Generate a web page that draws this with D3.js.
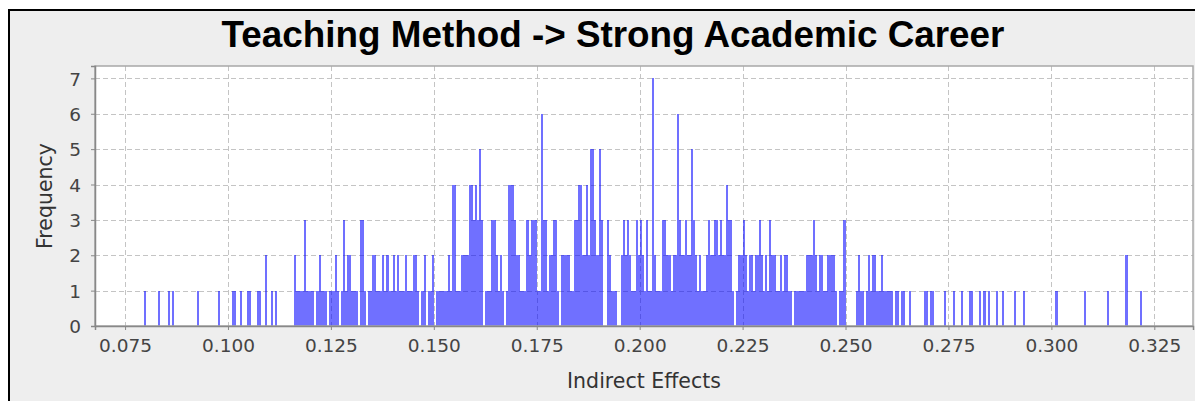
<!DOCTYPE html>
<html><head><meta charset="utf-8">
<script src="https://cdn.jsdelivr.net/npm/d3@7"></script>
<style>html,body{margin:0;padding:0;background:#fff;} svg{display:block;}</style>
</head><body><svg id="c" width="1195" height="401"></svg>
<script>
const chartTitle = "Teaching Method -> Strong Academic Career";
const xAxisLabel = "Indirect Effects";
const yAxisLabel = "Frequency";
const xTickValues = [0.075, 0.100, 0.125, 0.150, 0.175, 0.200, 0.225, 0.250, 0.275, 0.300, 0.325];
const yTickValues = [0, 1, 2, 3, 4, 5, 6, 7];
const xDomain = [0.0677, 0.3344];
const yDomain = [0, 7.35];
const binStart = 0.079;
const binWidth = 0.0005;
const frequency = [
  0,1,0,0,0,0,0,0,1,0, 0,0,0,1,0,1,0,0,0,0,
  0,0,0,0,0,0,0,1,0,0, 0,0,0,0,0,0,0,1,0,0,
  0,0,0,0,1,1,0,0,1,0, 0,1,1,0,0,0,1,1,0,0,
  2,0,0,1,0,1,0,0,0,0, 0,0,0,0,2,1,1,1,1,3,
  1,1,1,1,0,1,2,1,1,1, 0,1,1,1,2,1,0,1,3,1,
  2,2,1,1,1,0,3,3,1,0, 1,1,2,2,1,1,1,2,1,2,
  1,1,2,1,2,1,1,1,2,1, 1,1,2,2,1,0,1,2,0,1,
  1,2,0,1,1,1,1,1,1,2, 1,4,4,1,1,2,2,2,2,4,
  4,3,4,3,5,3,0,1,1,1, 3,3,2,1,2,1,0,1,4,4,
  4,3,2,2,1,1,1,3,2,3, 3,3,1,1,6,3,3,1,2,2,
  3,3,1,0,2,2,2,2,1,1, 3,3,4,4,2,2,4,2,5,5,
  3,2,5,3,0,0,3,2,1,1, 1,0,0,2,3,2,3,2,1,1,
  3,2,3,2,1,3,1,1,7,2, 1,1,1,3,3,2,2,1,2,2,
  6,3,2,2,3,2,2,5,3,2, 1,2,1,1,2,3,2,2,3,3,
  2,3,2,2,4,3,3,1,0,1, 2,2,3,2,1,2,2,1,2,2,
  3,2,1,2,1,3,2,2,1,1, 2,1,2,2,1,1,0,1,1,1,
  1,1,1,2,2,2,3,2,1,2, 2,1,1,2,2,2,2,1,0,1,
  1,3,0,0,0,0,0,1,2,1, 1,0,1,2,1,2,2,1,1,2,
  1,1,1,1,1,0,1,1,0,1, 1,0,0,1,0,0,0,0,0,0,
  1,1,0,1,1,0,0,0,0,0, 1,0,0,0,1,0,0,0,1,0,
  0,0,1,1,0,0,0,1,0,1, 0,1,0,0,0,1,0,0,1,0,
  0,0,0,0,1,0,0,0,1,0, 0,0,0,0,0,0,0,0,0,0,
  0,0,0,0,1,0,0,0,0,0, 0,0,0,0,0,0,0,0,1,0,
  0,0,0,0,0,0,0,0,0,1, 0,0,0,0,0,0,0,0,2,0,
  0,0,0,0,0,1,0
];

const svg = d3.select("#c");
const W = 1195, H = 401;
const plot = {left: 95, top: 66, right: 1193, bottom: 326};

// outer panel
svg.append("rect").attr("x", 0).attr("y", 0).attr("width", W).attr("height", H).attr("fill", "#ffffff");
svg.append("rect").attr("x", 9).attr("y", 10).attr("width", W + 10).attr("height", H + 10)
  .attr("fill", "#eeeeee").attr("stroke", "#000").attr("stroke-width", 2);

const x = d3.scaleLinear().domain(xDomain).range([plot.left, plot.right]);
const y = d3.scaleLinear().domain(yDomain).range([plot.bottom, plot.top]);

// plot background
svg.append("rect").attr("x", plot.left).attr("y", plot.top)
  .attr("width", plot.right - plot.left).attr("height", plot.bottom - plot.top)
  .attr("fill", "#ffffff");

// gridlines
const grid = svg.append("g").attr("stroke", "#c4c4c4").attr("stroke-width", 1).attr("stroke-dasharray", "5,3");
grid.selectAll("line.v").data(xTickValues).join("line")
  .attr("x1", d => Math.round(x(d)) + 0.5).attr("x2", d => Math.round(x(d)) + 0.5)
  .attr("y1", plot.top).attr("y2", plot.bottom);
grid.selectAll("line.h").data(yTickValues.filter(d => d > 0)).join("line")
  .attr("y1", d => Math.round(y(d)) + 0.5).attr("y2", d => Math.round(y(d)) + 0.5)
  .attr("x1", plot.left).attr("x2", plot.right);

// bars
const bins = frequency.map((f, i) => ({x0: binStart + i * binWidth, x1: binStart + (i + 1) * binWidth, f}))
  .filter(b => b.f > 0);
svg.append("g").attr("shape-rendering", "crispEdges").selectAll("rect").data(bins).join("rect")
  .attr("x", d => x(d.x0))
  .attr("width", d => Math.max(1.5, x(d.x1) - x(d.x0)))
  .attr("y", d => y(d.f))
  .attr("height", d => y(0) - y(d.f))
  .attr("fill", "#0000ff").attr("fill-opacity", 0.56);

// plot outline
svg.append("rect").attr("x", plot.left).attr("y", plot.top)
  .attr("width", plot.right - plot.left).attr("height", plot.bottom - plot.top)
  .attr("fill", "none").attr("stroke", "#a8a8a8").attr("stroke-width", 1.5);

// axes
const xAxis = d3.axisBottom(x).tickValues(xTickValues).tickFormat(d3.format(".3f")).tickSize(4).tickPadding(9);
const yAxis = d3.axisLeft(y).tickValues(yTickValues).tickFormat(d3.format("d")).tickSize(4).tickPadding(10);
const gx = svg.append("g").attr("transform", `translate(0,${plot.bottom})`).call(xAxis);
const gy = svg.append("g").attr("transform", `translate(${plot.left},0)`).call(yAxis);
[gx, gy].forEach(g => {
  g.select(".domain").attr("stroke", "#888").attr("stroke-width", 1.5);
  g.selectAll(".tick line").attr("stroke", "#888").attr("stroke-width", 1);
  g.selectAll(".tick text").attr("fill", "#444").attr("font-family", "DejaVu Sans").attr("font-size", 18.5);
});
gy.selectAll(".tick text").attr("dy", "0.36em");

// title
const t = svg.append("text").attr("x", 613).attr("y", 47).attr("text-anchor", "middle")
  .attr("font-family", "Liberation Sans, Arial, sans-serif").attr("font-weight", "bold")
  .attr("font-size", 34).attr("fill", "#000").text(chartTitle);
const tw = t.node().getComputedTextLength();
t.attr("font-size", 34 * 783 / tw);

// axis labels
svg.append("text").attr("x", (plot.left + plot.right) / 2).attr("y", 388).attr("text-anchor", "middle")
  .attr("font-family", "DejaVu Sans").attr("font-size", 20.5).attr("fill", "#333").text(xAxisLabel);
svg.append("text").attr("transform", `translate(52,${(plot.top + plot.bottom) / 2}) rotate(-90)`)
  .attr("text-anchor", "middle")
  .attr("font-family", "DejaVu Sans").attr("font-size", 20.5).attr("fill", "#333").text(yAxisLabel);
</script>
</body></html>
